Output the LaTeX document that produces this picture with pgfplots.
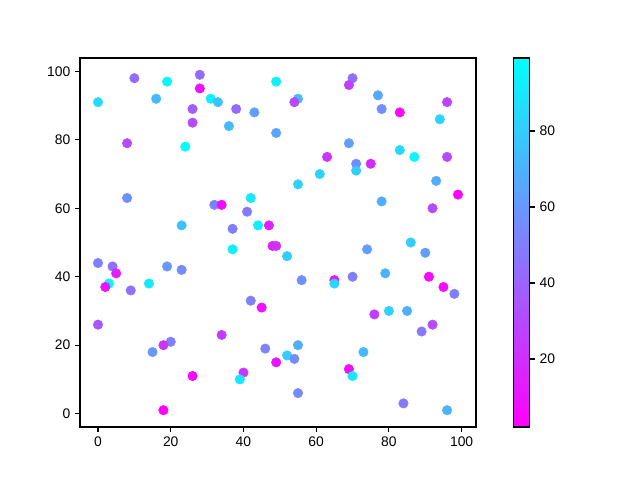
\documentclass[border=0pt]{standalone}
\usepackage{fontspec}
\setmainfont{Liberation Sans}
\usepackage{pgfplots}
\usepackage{pgfplotstable}
\pgfplotsset{compat=1.18}

% x, y, colour value
\pgfplotstableread{
x y c
0 91 85
10 98 43
19 97 95
28 99 43
28 95 8
49 97 93
16 92 73
31 92 92
33 91 76
26 89 37
38 89 43
43 88 62
26 85 30
36 84 73
49 82 64
8 79 30
24 78 99
8 63 57
32 61 52
34 61 6
42 63 90
41 59 48
23 55 75
37 54 50
44 55 92
47 55 15
37 48 93
48 49 15
49 49 20
0 44 50
4 43 45
5 41 14
3 38 95
2 37 10
9 36 45
14 38 90
19 43 60
23 42 55
42 33 50
45 31 8
0 26 35
34 23 25
20 21 50
18 20 22
15 18 60
46 19 52
49 15 10
40 12 22
39 10 90
26 11 5
18 1 2
52 46 80
74 48 62
86 50 80
90 47 62
56 39 57
65 39 7
65 38 83
70 40 50
79 41 70
91 40 5
95 37 8
98 35 50
76 29 25
80 30 82
85 30 68
92 26 30
89 24 48
55 20 68
52 17 80
54 16 55
73 18 72
69 13 8
70 11 90
55 6 55
84 3 48
96 1 70
55 92 72
54 91 30
70 98 45
69 96 25
77 93 65
78 89 55
83 88 5
96 91 28
94 86 82
69 79 62
63 75 22
71 73 55
71 71 80
75 73 18
83 77 85
87 75 95
96 75 30
61 70 82
55 67 82
93 68 68
99 64 3
92 60 30
78 62 68
}\pts

\begin{document}
\begin{tikzpicture}
\path[use as bounding box] (-57.6pt,-38.16pt) rectangle (403.2pt,307.44pt);
\begin{axis}[
  scale only axis,
  width=285.12pt, height=265.68pt,
  xmin=-4.95, xmax=103.95,
  ymin=-3.9, ymax=103.9,
  xtick={0,20,40,60,80,100},
  ytick={0,20,40,60,80,100},
  xtick pos=bottom, ytick pos=left,
  tick align=outside,
  major tick length=3.5pt,
  axis line style={line width=0.8pt},
  every tick/.style={black, line width=0.8pt},
  tick label style={font=\fontsize{10}{12}\selectfont},
  /pgf/number format/assume math mode=true,
  colormap={coolr}{rgb=(1,0,1) rgb=(0,1,1)},
  point meta min=2.1, point meta max=99.2,
  colorbar,
  colorbar style={
    scale only axis,
    at={(parent axis.north east)}, anchor=north west,
    xshift=18.72pt,
    width=11.52pt, height=265.68pt,
    ytick={20,40,60,80},
    ytick pos=right,
    tick align=outside,
    major tick length=3.5pt,
    axis line style={line width=0.8pt},
    every tick/.style={black, line width=0.8pt},
    tick label style={font=\fontsize{10}{12}\selectfont},
    /pgf/number format/assume math mode=true,
  },
]
\addplot[scatter, only marks, mark=*, mark size=3.4pt, scatter src=explicit,
  scatter/use mapped color={draw=mapped color, fill=mapped color}]
  table[x=x, y=y, meta=c] {\pts};
\end{axis}
\end{tikzpicture}
\end{document}
